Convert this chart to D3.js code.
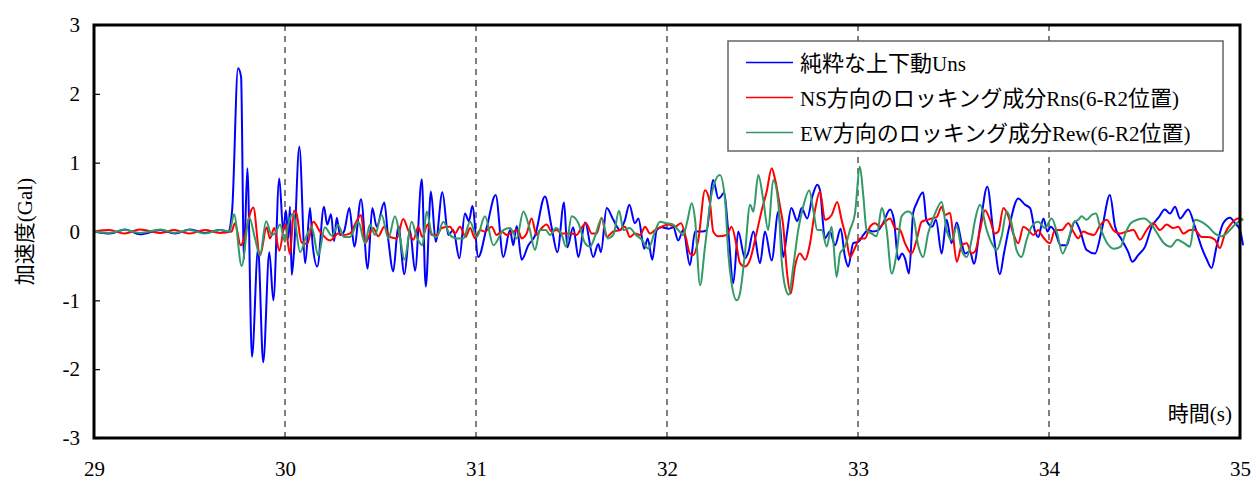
<!DOCTYPE html>
<html lang="ja">
<head>
<meta charset="utf-8">
<style>
  body { margin: 0; background: #fff; }
  svg { display: block; }
  .tick text { font-family: "Liberation Serif", serif; font-size: 21px; fill: #000; }
</style>
<script src="https://cdn.jsdelivr.net/npm/d3@7/dist/d3.min.js"></script>
</head>
<body>
<div id="chart"></div>
<script>
var width = 1254, height = 484;

// x = time (s), y = acceleration (Gal)
var xTicks = [29, 30, 31, 32, 33, 34, 35];
var yTicks = [-3, -2, -1, 0, 1, 2, 3];
var gridTimes = [30, 31, 32, 33, 34];
var seriesNames = ["純粋な上下動Uns", "NS方向のロッキング成分Rns(6-R2位置)", "EW方向のロッキング成分Rew(6-R2位置)"];
var seriesColors = ["#0000ff", "#ff0000", "#339966"];

var uns = [[29.000,0],[29.084,-0.03],[29.162,0.03],[29.241,-0.04],[29.346,0.02],[29.424,-0.03],[29.503,0.03],[29.581,-0.02],[29.660,0.02],[29.702,0],
  [29.723,0.3],[29.754,2.37],[29.770,2.25],[29.785,-0.4],[29.803,0.92],[29.827,-1.82],[29.859,-0.25],[29.886,-1.9],[29.918,-0.3],[29.939,-1.0],
  [29.970,0.77],[29.991,0.0],[30.005,0.31],[30.017,-0.1],[30.026,0.36],[30.035,-0.63],[30.047,-0.3],[30.075,1.23],[30.106,-0.46],[30.131,0.34],
  [30.145,-0.2],[30.169,-0.51],[30.204,0.36],[30.221,0.1],[30.241,0.25],[30.257,-0.14],[30.271,0.2],[30.288,-0.05],[30.309,0.0],[30.337,0.34],
  [30.363,-0.22],[30.398,0.47],[30.433,-0.54],[30.457,0.34],[30.480,0.07],[30.520,0.42],[30.541,-0.12],[30.567,-0.58],[30.593,0.08],[30.625,-0.62],
  [30.654,0.02],[30.681,-0.57],[30.716,0.76],[30.737,-0.8],[30.764,0.58],[30.789,-0.15],[30.824,0.57],[30.855,-0.05],[30.881,0.02],[30.913,-0.39],
  [30.942,0.26],[30.963,0.15],[30.981,0.37],[31.012,-0.37],[31.056,0.06],[31.103,0.53],[31.143,-0.37],[31.178,0.02],[31.195,-0.2],[31.213,0.08],
  [31.239,-0.41],[31.274,-0.2],[31.309,-0.06],[31.361,0.51],[31.396,0.06],[31.426,-0.3],[31.461,0.42],[31.478,-0.23],[31.509,0.06],[31.536,-0.37],
  [31.571,0.13],[31.614,-0.37],[31.640,-0.18],[31.654,-0.3],[31.684,0.34],[31.719,0.17],[31.754,0.02],[31.780,0.17],[31.803,0.39],[31.832,0.12],
  [31.850,0.19],[31.881,-0.25],[31.899,-0.1],[31.923,-0.41],[31.946,0.02],[31.972,0.06],[32.007,0.04],[32.033,0.06],[32.059,-0.13],[32.085,0.02],
  [32.120,-0.49],[32.147,0.0],[32.182,0.0],[32.208,0.02],[32.242,0.75],[32.269,0.48],[32.283,0.51],[32.298,0.56],[32.321,0.0],[32.347,-0.75],
  [32.373,0.0],[32.408,-0.39],[32.426,-0.3],[32.452,0.0],[32.487,-0.46],[32.513,0.0],[32.548,-0.42],[32.583,0.29],[32.609,-0.37],[32.627,-0.05],
  [32.651,0.34],[32.682,0.15],[32.705,0.34],[32.734,0.19],[32.763,0.53],[32.787,0.68],[32.801,0.6],[32.827,-0.1],[32.853,0.0],[32.880,-0.2],
  [32.909,0.04],[32.932,-0.37],[32.949,-0.51],[32.975,-0.17],[33.002,-0.15],[33.028,-0.05],[33.054,0.02],[33.079,0.0],[33.106,0.02],[33.131,0.12],
  [33.168,0.32],[33.188,0.17],[33.211,-0.41],[33.230,-0.32],[33.246,-0.39],[33.267,-0.61],[33.289,0.27],[33.307,0.41],[33.341,0.57],[33.358,0.17],
  [33.389,0.07],[33.408,0.17],[33.438,-0.32],[33.464,0.17],[33.490,-0.17],[33.517,0.13],[33.543,-0.17],[33.560,-0.32],[33.586,-0.29],[33.607,-0.47],
  [33.639,0.07],[33.677,0.65],[33.708,0.0],[33.743,-0.62],[33.764,-0.32],[33.792,0.07],[33.839,0.48],[33.874,0.39],[33.901,0.34],[33.927,0.0],
  [33.944,-0.08],[33.971,0.19],[33.992,0.0],[34.009,0.07],[34.031,0.0],[34.061,-0.2],[34.093,-0.2],[34.110,-0.05],[34.136,0.15],[34.162,0.02],
  [34.197,-0.27],[34.241,-0.32],[34.276,0.02],[34.319,0.53],[34.346,0.07],[34.381,-0.12],[34.415,-0.3],[34.436,-0.44],[34.468,-0.34],[34.503,-0.22],
  [34.538,0.07],[34.573,0.2],[34.607,0.32],[34.634,0.26],[34.660,0.36],[34.686,0.19],[34.729,0.32],[34.764,0.07],[34.799,-0.23],[34.825,-0.4],
  [34.851,-0.53],[34.877,-0.22],[34.912,0.12],[34.948,0.2],[34.974,0.12],[35.000,0.02],[35.016,-0.2]];

var rns = [[29.000,0],[29.08,0.02],[29.16,-0.03],[29.24,0.03],[29.35,-0.02],[29.42,0.02],[29.50,-0.03],[29.58,0.02],[29.66,-0.02],[29.72,0],
  [29.738,0.12],[29.768,-0.2],[29.834,0.35],[29.869,-0.35],[29.904,0.06],[29.921,-0.1],[29.944,0.05],[29.970,-0.28],[30.000,0.11],[30.026,-0.33],
  [30.047,0.3],[30.058,0.28],[30.087,-0.16],[30.117,-0.18],[30.148,0.14],[30.183,0.0],[30.236,-0.13],[30.279,-0.03],[30.305,-0.05],[30.340,-0.03],
  [30.366,0.1],[30.398,0.24],[30.419,-0.17],[30.462,0.05],[30.488,-0.07],[30.520,0.07],[30.550,-0.08],[30.585,-0.1],[30.619,0.18],[30.645,0.02],
  [30.672,-0.12],[30.698,0.07],[30.719,-0.08],[30.747,0.1],[30.768,-0.05],[30.794,-0.05],[30.820,0.05],[30.864,0.07],[30.890,-0.03],[30.916,0.07],
  [30.946,-0.08],[30.969,0.05],[30.995,-0.1],[31.021,0.02],[31.047,0.0],[31.082,0.07],[31.108,-0.05],[31.134,0.0],[31.161,-0.05],[31.195,0.0],
  [31.220,0.02],[31.239,-0.1],[31.265,-0.03],[31.291,0.19],[31.317,-0.05],[31.335,0.02],[31.370,0.1],[31.396,0.0],[31.422,0.02],[31.448,-0.03],
  [31.475,-0.03],[31.501,-0.03],[31.527,-0.05],[31.545,0.02],[31.576,0.12],[31.606,-0.03],[31.632,-0.03],[31.658,0.2],[31.684,-0.08],[31.719,0.0],
  [31.754,0.02],[31.780,0.07],[31.806,-0.08],[31.832,-0.03],[31.859,-0.05],[31.885,0.07],[31.911,-0.03],[31.937,0.02],[31.972,0.07],[32.007,0.1],
  [32.042,0.07],[32.073,0.12],[32.098,-0.08],[32.120,-0.32],[32.138,-0.34],[32.164,-0.12],[32.199,0.6],[32.225,0.41],[32.242,0.0],[32.269,-0.07],
  [32.313,-0.05],[32.338,0.07],[32.365,-0.22],[32.382,-0.46],[32.408,-0.51],[32.435,-0.41],[32.461,-0.12],[32.496,0.31],[32.522,0.58],[32.548,0.92],
  [32.565,0.77],[32.592,0.36],[32.609,0.07],[32.627,-0.56],[32.648,-0.9],[32.670,-0.51],[32.696,-0.32],[32.723,-0.41],[32.749,-0.17],[32.775,0.31],
  [32.801,0.58],[32.827,0.17],[32.862,0.24],[32.891,0.43],[32.914,0.17],[32.940,-0.12],[32.958,-0.37],[32.984,-0.24],[33.010,-0.1],[33.037,-0.1],
  [33.063,0.07],[33.089,0.12],[33.115,0.07],[33.141,0.14],[33.168,0.19],[33.194,0.05],[33.220,0.02],[33.246,-0.17],[33.281,-0.32],[33.307,-0.12],
  [33.333,0.14],[33.364,0.17],[33.386,0.19],[33.412,0.21],[33.438,0.36],[33.455,0.24],[33.482,0.27],[33.497,-0.03],[33.517,-0.44],[33.543,-0.2],
  [33.569,-0.17],[33.595,-0.32],[33.613,-0.29],[33.639,0.02],[33.665,0.31],[33.691,0.17],[33.717,-0.03],[33.735,0.0],[33.761,0.34],[33.787,0.22],
  [33.813,-0.03],[33.839,-0.17],[33.866,0.07],[33.892,0.02],[33.918,-0.05],[33.944,0.02],[33.961,-0.05],[34.005,-0.17],[34.031,0.02],[34.066,0.02],
  [34.101,0.12],[34.127,0.0],[34.153,-0.1],[34.179,0.0],[34.205,-0.03],[34.236,-0.05],[34.263,0.07],[34.302,0.17],[34.337,0.02],[34.372,-0.03],
  [34.407,0.0],[34.442,0.02],[34.476,-0.12],[34.511,0.02],[34.546,0.12],[34.581,0.02],[34.616,0.1],[34.651,0.05],[34.677,0.07],[34.703,-0.03],
  [34.738,0.02],[34.764,0.02],[34.799,-0.08],[34.834,-0.08],[34.869,-0.12],[34.895,-0.24],[34.921,-0.03],[34.956,0.12],[34.991,0.19],[35.017,0.17]];

var rew = [[29.000,0],[29.08,-0.02],[29.16,0.02],[29.24,-0.02],[29.35,0.03],[29.42,-0.02],[29.50,0.02],[29.58,-0.03],[29.66,0.02],[29.71,0],
  [29.733,0.25],[29.773,-0.5],[29.813,0.2],[29.843,-0.1],[29.869,-0.35],[29.901,0.15],[29.930,-0.05],[29.948,-0.03],[29.974,0.1],[30.000,-0.15],
  [30.017,0.1],[30.043,0.26],[30.079,-0.3],[30.110,-0.08],[30.140,0.06],[30.174,-0.35],[30.209,0.06],[30.245,-0.06],[30.279,0.09],[30.309,-0.08],
  [30.340,-0.08],[30.384,0.14],[30.419,-0.17],[30.445,0.1],[30.471,-0.05],[30.506,0.24],[30.541,-0.1],[30.576,0.22],[30.602,-0.08],[30.625,-0.41],
  [30.663,0.14],[30.690,-0.08],[30.719,-0.2],[30.742,0.29],[30.768,-0.03],[30.794,-0.08],[30.829,0.14],[30.864,-0.05],[30.899,-0.1],[30.934,-0.1],
  [30.969,0.14],[31.004,-0.08],[31.047,0.22],[31.091,-0.2],[31.143,0.02],[31.178,0.05],[31.213,-0.1],[31.248,0.29],[31.280,0.05],[31.309,-0.27],
  [31.335,0.02],[31.366,0.02],[31.387,-0.05],[31.419,0.05],[31.449,-0.05],[31.471,-0.22],[31.501,0.22],[31.536,0.12],[31.571,-0.17],[31.597,-0.22],
  [31.623,-0.07],[31.658,0.19],[31.690,-0.1],[31.719,-0.05],[31.749,0.3],[31.772,0.02],[31.803,0.05],[31.838,-0.05],[31.868,-0.12],[31.902,-0.25],
  [31.937,0.0],[31.963,0.14],[31.998,0.12],[32.033,0.1],[32.059,0.02],[32.085,-0.05],[32.108,0.17],[32.129,0.41],[32.147,0.17],[32.173,-0.78],
  [32.199,-0.22],[32.234,0.55],[32.277,0.82],[32.304,0.46],[32.321,-0.32],[32.338,-0.75],[32.365,-1.0],[32.382,-0.9],[32.408,-0.32],[32.435,0.39],
  [32.452,0.29],[32.478,0.82],[32.504,0.46],[32.530,0.02],[32.556,0.75],[32.583,0.41],[32.600,-0.41],[32.618,-0.8],[32.638,-0.92],[32.661,-0.51],
  [32.687,0.02],[32.713,0.36],[32.745,0.6],[32.766,0.31],[32.787,0.02],[32.810,0.02],[32.836,-0.22],[32.862,0.07],[32.888,-0.66],[32.906,-0.32],
  [32.932,-0.22],[32.958,0.02],[32.984,0.26],[33.010,0.94],[33.028,0.51],[33.045,0.02],[33.072,-0.03],[33.098,-0.07],[33.124,0.34],[33.150,0.02],
  [33.176,-0.61],[33.202,-0.32],[33.228,0.22],[33.263,0.29],[33.289,0.22],[33.315,-0.2],[33.341,-0.37],[33.367,-0.03],[33.403,0.26],[33.438,0.43],
  [33.464,0.02],[33.490,-0.12],[33.517,0.07],[33.543,-0.27],[33.569,-0.37],[33.595,-0.12],[33.613,0.17],[33.639,0.39],[33.674,0.02],[33.700,-0.17],
  [33.726,-0.27],[33.752,-0.07],[33.778,0.29],[33.804,0.12],[33.830,-0.27],[33.856,-0.37],[33.883,-0.12],[33.909,0.07],[33.944,0.14],[33.979,0.05],
  [34.014,0.19],[34.043,-0.03],[34.071,-0.32],[34.101,-0.12],[34.127,0.12],[34.153,0.17],[34.171,0.22],[34.197,0.17],[34.223,0.24],[34.246,0.26],
  [34.267,0.07],[34.305,-0.17],[34.340,-0.25],[34.375,-0.22],[34.401,-0.02],[34.428,0.12],[34.462,0.17],[34.497,0.19],[34.532,0.12],[34.567,-0.03],
  [34.602,-0.17],[34.637,-0.22],[34.672,-0.12],[34.707,-0.17],[34.738,-0.22],[34.764,0.17],[34.799,0.14],[34.834,0.07],[34.869,-0.03],[34.904,-0.07],
  [34.929,-0.03],[34.963,0.07],[34.991,0.14],[35.016,0.17]];

var allSeries = [uns, rns, rew];

var plotL = 94, plotR = 1240, plotT = 25, plotB = 438;

var svg = d3.select("#chart").append("svg")
  .attr("width", width)
  .attr("height", height);

var x = d3.scaleLinear().domain([29, 35]).range([plotL, plotR]);
var y = d3.scaleLinear().domain([-3, 3]).range([plotB, plotT]);

// split a label into CJK and latin runs so each gets its own font
function runs(s) {
  var out = [], re = /[\u3000-\u9fff\uff00-\uffef]+|[^\u3000-\u9fff\uff00-\uffef]+/g, m;
  while ((m = re.exec(s)) !== null) {
    out.push({ text: m[0], cjk: /[\u3000-\u9fff\uff00-\uffef]/.test(m[0]) });
  }
  return out;
}

function mixedText(sel, label, cjkSize, latinSize) {
  runs(label).forEach(function(r) {
    sel.append("tspan")
      .style("font-family", r.cjk ? '"Noto Sans CJK JP", sans-serif' : '"Liberation Serif", serif')
      .style("font-size", (r.cjk ? cjkSize : latinSize) + "px")
      .text(r.text);
  });
}

// dashed vertical grid
svg.append("g").selectAll("line")
  .data(gridTimes)
  .enter().append("line")
  .attr("x1", function(d){ return x(d); })
  .attr("x2", function(d){ return x(d); })
  .attr("y1", plotT)
  .attr("y2", plotB)
  .attr("stroke", "#555")
  .attr("stroke-width", 1.5)
  .attr("stroke-dasharray", "6,5");

// y axis, ticks pointing inward; plain hyphen for negatives
var yAxis = svg.append("g")
  .attr("transform", "translate(" + plotL + ",0)")
  .call(d3.axisLeft(y).tickValues(yTicks).tickSize(-6).tickPadding(14).tickFormat(function(d){ return String(d); }));
yAxis.select(".domain").remove();
yAxis.selectAll(".tick line").attr("stroke", "#000").attr("stroke-width", 1.2);

var xAxis = svg.append("g")
  .attr("transform", "translate(0," + plotB + ")")
  .call(d3.axisBottom(x).tickValues(xTicks).tickSize(0).tickPadding(23).tickFormat(function(d){ return String(d); }));
xAxis.select(".domain").remove();

// series lines
var line = d3.line()
  .x(function(d){ return x(d[0]); })
  .y(function(d){ return y(d[1]); })
  .curve(d3.curveMonotoneX);

svg.append("g").selectAll("path")
  .data(allSeries)
  .enter().append("path")
  .attr("d", line)
  .attr("fill", "none")
  .attr("stroke", function(d, i){ return seriesColors[i]; })
  .attr("stroke-width", 2)
  .attr("stroke-linejoin", "round");

// frame
svg.append("rect")
  .attr("x", plotL)
  .attr("y", plotT)
  .attr("width", plotR - plotL)
  .attr("height", plotB - plotT)
  .attr("fill", "none")
  .attr("stroke", "#000")
  .attr("stroke-width", 3);

// axis titles
var yTitle = svg.append("text")
  .attr("transform", "translate(32," + y(0) + ") rotate(-90)")
  .attr("text-anchor", "middle");
mixedText(yTitle, "加速度(Gal)", 21, 21);

var xTitle = svg.append("text")
  .attr("x", 1232)
  .attr("y", 421)
  .attr("text-anchor", "end");
mixedText(xTitle, "時間(s)", 21, 21);

// legend
var legend = svg.append("g").attr("transform", "translate(728,41)");
legend.append("rect")
  .attr("width", 495)
  .attr("height", 110)
  .attr("fill", "#fff")
  .attr("stroke", "#666")
  .attr("stroke-width", 1.5);

var items = legend.selectAll(".item")
  .data(seriesNames)
  .enter().append("g")
  .attr("transform", function(d, i){ return "translate(0," + (21.5 + i * 35) + ")"; });

items.append("line")
  .attr("x1", 18).attr("x2", 65)
  .attr("stroke", function(d, i){ return seriesColors[i]; })
  .attr("stroke-width", 1.6);

items.append("text")
  .attr("x", 72)
  .attr("y", 8)
  .each(function(d){ mixedText(d3.select(this), d, 22, 21); });
</script>
</body>
</html>
